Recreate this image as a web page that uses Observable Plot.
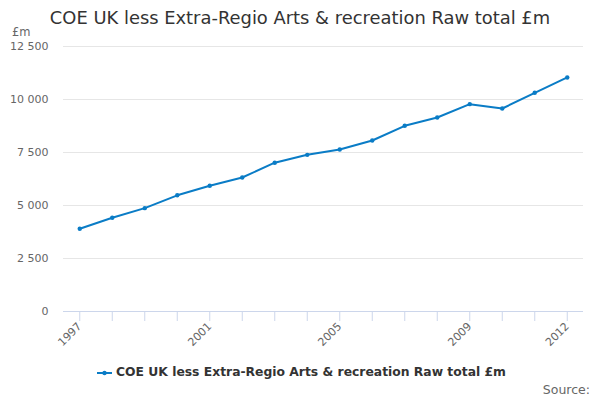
<!DOCTYPE html>
<html>
<head>
<meta charset="utf-8">
<script src="https://cdn.jsdelivr.net/npm/d3@7"></script>
<script src="https://cdn.jsdelivr.net/npm/@observablehq/plot@0.6"></script>
<style>
  body { margin: 0; background: #fff; font-family: "DejaVu Sans", sans-serif; }
  #wrap { position: relative; width: 600px; height: 400px; overflow: hidden; }
  #wrap svg { position: absolute; left: 0; top: 0; }
  .t { position: absolute; white-space: nowrap; }
</style>
</head>
<body>
<div id="wrap">
  <div class="t" id="title" style="left:0;width:600px;text-align:center;top:7px;font-size:17.9px;color:#333;">COE UK less Extra-Regio Arts &amp; recreation Raw total £m</div>
  <div class="t" style="left:12px;top:25px;font-size:11.5px;color:#666;">£m</div>
  <div class="t" style="left:116px;top:365px;font-size:12.35px;font-weight:bold;color:#333;">COE UK less Extra-Regio Arts &amp; recreation Raw total £m</div>
  <div class="t" style="right:10px;top:382px;font-size:12.5px;color:#666;">Source:</div>
</div>
<script>
const years = ["1997","1998","1999","2000","2001","2002","2003","2004","2005","2006","2007","2008","2009","2010","2011","2012"];
const values = [3900, 4420, 4875, 5480, 5930, 6320, 7020, 7390, 7640, 8065, 8760, 9150, 9780, 9575, 10315, 11040];
const yTicks = [0, 2500, 5000, 7500, 10000, 12500];
const xLabels = ["1997", "2001", "2005", "2009", "2012"];
const legendYears = ["1997"];

const data = years.map((y, i) => ({year: y, value: values[i]}));
const color = "#0a7cc6";
const fmt = v => d3.format(",")(v).replace(/,/g, " ");

const plot = Plot.plot({
  width: 600,
  height: 400,
  marginTop: 46,
  marginBottom: 89,
  marginLeft: 63,
  marginRight: 17,
  style: {fontFamily: "DejaVu Sans, sans-serif", fontSize: "11px", color: "#666", background: "transparent", overflow: "visible"},
  x: {type: "point", domain: years, padding: 0.5, round: false},
  y: {domain: [0, 12500]},
  marks: [
    Plot.ruleY(yTicks.filter(d => d > 0), {stroke: "#e6e6e6", strokeWidth: 1}),
    Plot.ruleY([0], {stroke: "#ccd6eb", strokeWidth: 1}),
    Plot.axisY({ticks: yTicks, tickFormat: fmt, tickSize: 0, tickPadding: 15, label: null, fill: "#666"}),
    Plot.axisX({ticks: years, tickFormat: d => xLabels.includes(d) ? d : "", tickSize: 10, tickRotate: -45, tickPadding: 3, stroke: "#ccd6eb", label: null, fill: "#666"}),
    Plot.line(data, {x: "year", y: "value", stroke: color, strokeWidth: 2}),
    Plot.dot(data, {x: "year", y: "value", fill: color, r: 2.2})
  ]
});
document.getElementById("wrap").prepend(plot);

// legend symbol drawn in a small svg
const lg = d3.select("#wrap").append("svg")
  .attr("width", 20).attr("height", 10)
  .style("left", "96px").style("top", "368px");
lg.selectAll("line").data(legendYears).join("line")
  .attr("x1", 1).attr("x2", 16).attr("y1", 5).attr("y2", 5)
  .attr("stroke", color).attr("stroke-width", 2);
lg.selectAll("circle").data(legendYears).join("circle")
  .attr("cx", 8.5).attr("cy", 5).attr("r", 2.2).attr("fill", color);
</script>
</body>
</html>
